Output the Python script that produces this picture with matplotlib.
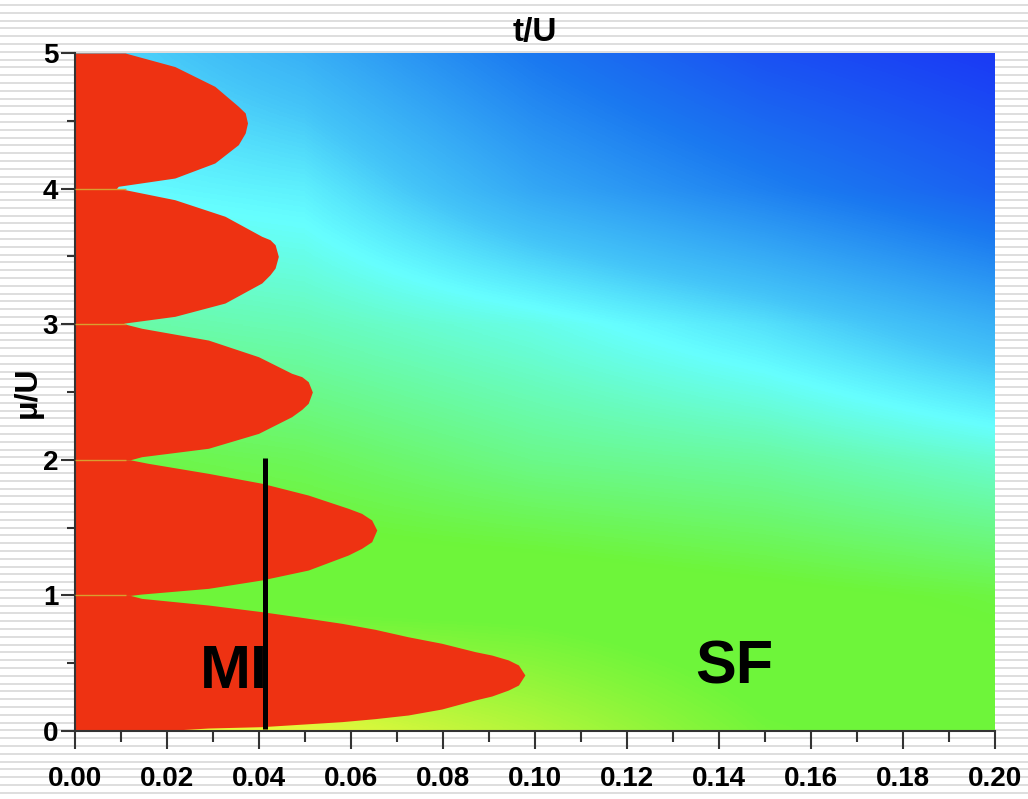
import numpy as np
import matplotlib
matplotlib.use("Agg")
import matplotlib.pyplot as plt
from matplotlib.colors import LinearSegmentedColormap
from matplotlib.ticker import MultipleLocator, FormatStrFormatter

# Mott lobe boundaries (mu/U, t/U)
lobe1_mu = [0.0, 0.022, 0.032, 0.069, 0.091, 0.118, 0.162, 0.229, 0.258, 0.302, 0.339, 0.413,
            0.487, 0.524, 0.560, 0.585, 0.647, 0.695, 0.75, 0.794, 0.838, 0.88, 0.929, 0.978, 1.0]
lobe1_t = [0.018, 0.029, 0.0406, 0.058, 0.0652, 0.0724, 0.0797, 0.087, 0.0906, 0.0942, 0.0964, 0.0978,
           0.0964, 0.0942, 0.0906, 0.087, 0.0797, 0.0724, 0.0652, 0.058, 0.0493, 0.0406, 0.029, 0.0145, 0.012]
lobe2_mu = [1.0, 1.01, 1.052, 1.114, 1.187, 1.298, 1.347, 1.396, 1.482, 1.556, 1.605, 1.642,
            1.74, 1.827, 1.90, 1.974, 2.0]
lobe2_t = [0.012, 0.0145, 0.029, 0.0406, 0.0507, 0.0594, 0.0623, 0.0645, 0.0656, 0.0645, 0.0623, 0.0594,
           0.0507, 0.0406, 0.029, 0.0159, 0.012]
lobe3_mu = [2.0, 2.023, 2.085, 2.195, 2.318, 2.372, 2.417, 2.50, 2.576, 2.613, 2.638, 2.76, 2.883, 2.97, 3.0]
lobe3_t = [0.012, 0.0145, 0.029, 0.0399, 0.0471, 0.0493, 0.0507, 0.0516, 0.0507, 0.0493, 0.0471, 0.0399,
           0.029, 0.0145, 0.011]
lobe4_mu = [3.0, 3.009, 3.058, 3.156, 3.304, 3.365, 3.414, 3.50, 3.586, 3.623, 3.648, 3.796, 3.918, 3.992, 4.0]
lobe4_t = [0.010, 0.0109, 0.0217, 0.0326, 0.0406, 0.0424, 0.0435, 0.0442, 0.0435, 0.0424, 0.0406, 0.0326,
           0.0217, 0.0109, 0.009]
lobe5_mu = [4.0, 4.017, 4.078, 4.189, 4.324, 4.41, 4.484, 4.558, 4.607, 4.754, 4.90, 5.0]
lobe5_t = [0.009, 0.0094, 0.0217, 0.0304, 0.0355, 0.037, 0.0375, 0.037, 0.0355, 0.0304, 0.0217, 0.0109]

# background colour field, coarse grid
grid_t = [0.0, 0.05, 0.10, 0.15, 0.20]
grid_mu = [0, 1, 2, 3, 4, 5]
grid_val = [
    [0.0, 0.1, 0.45, 0.85, 1.0],
    [0.9, 1.0, 1.0, 1.1, 1.2],
    [1.2, 1.3, 1.5, 1.6, 1.8],
    [1.6, 1.7, 1.9, 2.2, 2.6],
    [2.0, 2.1, 2.7, 3.1, 3.5],
    [2.2, 2.6, 3.2, 3.7, 4.0],
]

cut_t = 0.0413
cut_mu = [0.015, 2.013]

W, H = 1028, 799
fig = plt.figure(figsize=(W / 100, H / 100), dpi=100)

# striped slide background
bg = fig.add_axes([0, 0, 1, 1], zorder=-5)
bg.set_xlim(0, W)
bg.set_ylim(H, 0)
bg.hlines(np.arange(5, H, 7.8), 0, W, color="#dedede", lw=1.4)
bg.axis("off")

ax = fig.add_axes([75 / W, 1 - 731 / H, 920 / W, 678 / H])
ax.patch.set_alpha(0)

cmap = LinearSegmentedColormap.from_list(
    "phase",
    [(0.0, "#f8f83c"), (0.22, "#6ef53a"), (0.29, "#6ef53a"),
     (0.5, "#66ffff"), (0.6, "#44c4f8"), (0.8, "#1a78f0"), (1.0, "#1a3af5")],
)
dt = (grid_t[1] - grid_t[0]) / 2
dm = (grid_mu[1] - grid_mu[0]) / 2
ax.imshow(np.array(grid_val), origin="lower", cmap=cmap, vmin=0, vmax=4,
          extent=[grid_t[0] - dt, grid_t[-1] + dt, grid_mu[0] - dm, grid_mu[-1] + dm],
          aspect="auto", interpolation="bilinear", zorder=0)

red = "#ee3212"
for mu, t in [(lobe1_mu, lobe1_t), (lobe2_mu, lobe2_t), (lobe3_mu, lobe3_t),
              (lobe4_mu, lobe4_t), (lobe5_mu, lobe5_t)]:
    ax.fill_betweenx(mu, 0, t, color=red, lw=0, zorder=2)
ax.hlines([1, 2, 3, 4], 0, 0.011, color="#d8a030", lw=1, zorder=3)

ax.vlines(cut_t, cut_mu[0], cut_mu[1], color="black", lw=3.6, zorder=4)

ax.text(0.0272, 0.435, "MI", fontsize=44, fontweight="bold", family="Liberation Sans",
        ha="left", va="center", zorder=3)
ax.text(0.1348, 0.465, "SF", fontsize=44, fontweight="bold", family="Liberation Sans",
        ha="left", va="center", zorder=3)

ax.set_xlim(0, 0.2)
ax.set_ylim(0, 5)

ax.xaxis.set_major_locator(MultipleLocator(0.02))
ax.xaxis.set_minor_locator(MultipleLocator(0.01))
ax.xaxis.set_major_formatter(FormatStrFormatter("%.2f"))
ax.yaxis.set_major_locator(MultipleLocator(1))
ax.yaxis.set_minor_locator(MultipleLocator(0.5))
ax.tick_params(axis="x", which="major", length=13, width=1.5, pad=12, direction="out", color="#333333")
ax.tick_params(axis="x", which="minor", length=8, width=1.5, direction="out", color="#333333")
ax.tick_params(axis="y", which="major", length=10, width=1.5, pad=2, direction="out", color="#333333")
ax.tick_params(axis="y", which="minor", length=6, width=1.5, direction="out", color="#333333")
for lab in ax.get_xticklabels():
    lab.set_fontsize(20)
    lab.set_fontweight("bold")
    lab.set_family("Liberation Sans")
for lab in ax.get_yticklabels():
    lab.set_fontsize(20)
    lab.set_fontweight("bold")
    lab.set_family("Liberation Sans")

for s in ["top", "right"]:
    ax.spines[s].set_visible(False)
for s in ["left", "bottom"]:
    ax.spines[s].set_linewidth(1.5)
    ax.spines[s].set_color("#333333")

ax.set_title("t/U", fontsize=24, fontweight="bold", family="Liberation Sans", pad=9)
ax.set_ylabel("μ/U", fontsize=23, fontweight="bold", family="Liberation Sans", labelpad=0)

fig.savefig("out.png", dpi=100)
